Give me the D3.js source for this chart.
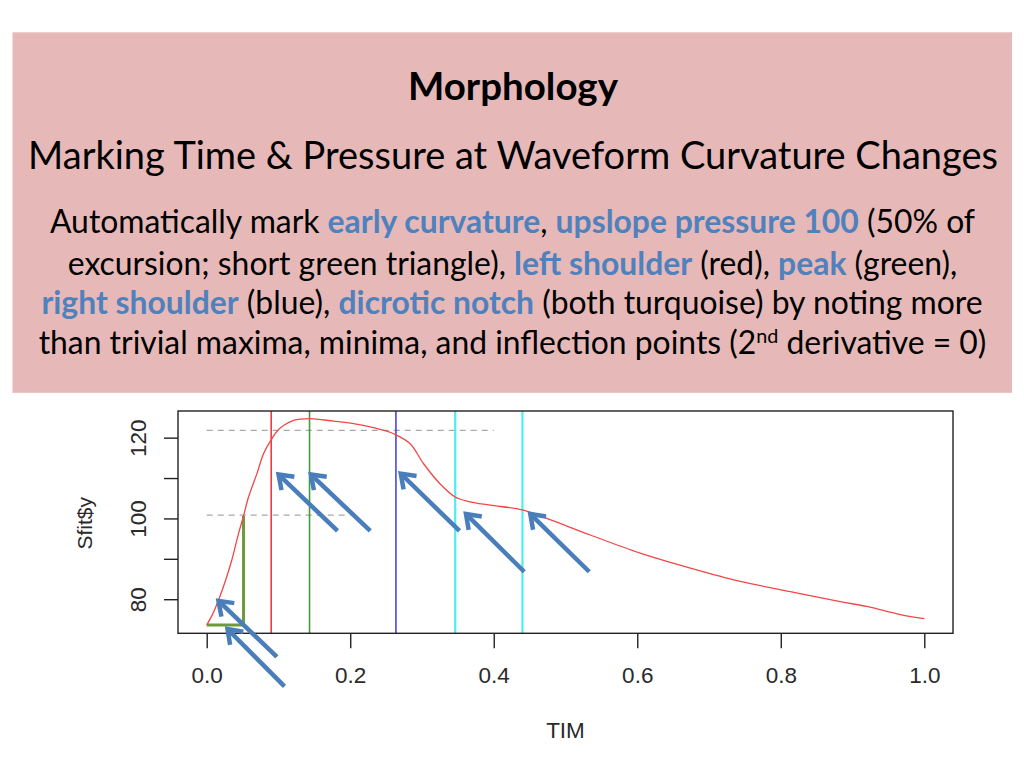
<!DOCTYPE html>
<html><head><meta charset="utf-8">
<script src="https://cdn.jsdelivr.net/npm/d3@7"></script>
<style>body{margin:0;background:#fff;} svg{display:block}</style>
</head><body>
<svg id="chart" width="1024" height="768"></svg>
<script>
// ---------- data ----------
const TIME = [0, 0.0083, 0.0165, 0.026, 0.035, 0.0444, 0.0513, 0.0583, 0.070, 0.0792, 0.0899, 0.098, 0.107, 0.121, 0.1433, 0.1767, 0.2046, 0.2325, 0.251, 0.2637, 0.2836, 0.302, 0.325, 0.3463, 0.367, 0.395, 0.44, 0.474, 0.5345, 0.6042, 0.6739, 0.7435, 0.8132, 0.8829, 0.92, 0.9666, 1.0];
const PRESSURE = [73.6, 76.3, 79.8, 84.5, 89.7, 96.3, 100.6, 105.3, 111.1, 116.0, 119.5, 121.6, 123.0, 124.3, 124.7, 124.1, 123.5, 122.5, 121.6, 120.7, 118.5, 113.6, 108.6, 105.3, 104.1, 103.3, 102.1, 100.0, 95.9, 91.4, 87.7, 84.4, 81.9, 79.4, 78.2, 76.2, 75.2];

const X_TICKS = [0, 0.2, 0.4, 0.6, 0.8, 1.0];
const X_TICK_LABELS = ["0.0", "0.2", "0.4", "0.6", "0.8", "1.0"];
const Y_TICKS = [80, 90, 100, 110, 120];
const Y_TICK_LABELS = ["80", "", "100", "", "120"];

const MARKER_NAMES = ["left shoulder", "peak", "right shoulder", "dicrotic 1", "dicrotic 2"];
const MARKER_TIMES = [0.0899, 0.1433, 0.2637, 0.3463, 0.4400];

const UPSLOPE_TIMES = [0, 0.0513];
const UPSLOPE_PRESSURES = [73.6, 100.6];

const REF_PRESSURES = [100.8, 121.8];
const REF_END_TIMES = [0.2, 0.4];

const ARROW_TAIL_T = [0.0978, 0.1084, 0.1823, 0.2279, 0.3523, 0.4425, 0.5331];
const ARROW_TAIL_P = [65.7, 58.4, 96.9, 96.9, 96.9, 86.8, 86.8];
const ARROW_HEAD_T = [0.0164, 0.0290, 0.1001, 0.1452, 0.2704, 0.3613, 0.4509];
const ARROW_HEAD_P = [79.6, 72.6, 110.9, 110.9, 111.1, 101.1, 101.1];

const TITLE = "Morphology";
const SUBTITLE = "Marking Time & Pressure at Waveform Curvature Changes";
const BODY_LINES = [
  [["Automatically mark ", 0], ["early curvature", 1], [", ", 0], ["upslope pressure 100", 1], [" (50% of", 0]],
  [["excursion; short green triangle), ", 0], ["left shoulder", 1], [" (red), ", 0], ["peak", 1], [" (green),", 0]],
  [["right shoulder", 1], [" (blue), ", 0], ["dicrotic notch", 1], [" (both turquoise) by noting more", 0]],
  [["than trivial maxima, minima, and inflection points (2", 0], ["nd", 2], [" derivative = 0)", 0]]
];
const X_LABEL = "TIM";
const Y_LABEL = "Sfit$y";

// ---------- layout / style ----------
const svg = d3.select("#chart");
const PANEL = {x: 12.5, y: 32.3, w: 999.5, h: 360.5};
const BOX = {l: 178, r: 953, t: 411, b: 633.3};
const MARKER_COLORS = ["#f23a3a", "#3f9c3f", "#2f2fd0", "#4eeeee", "#4eeeee"];
const MARKER_WIDTHS = [1.6, 1.6, 1.4, 2.2, 2.2];
const HIGHLIGHT = "#4f81bd";
const BODY_FONT = "Lato, 'Noto Sans', sans-serif";
const AXIS_FONT = "'Liberation Sans', Arial, sans-serif";
const AXIS_SIZE = 22.5;

svg.append("rect").attr("x", PANEL.x).attr("y", PANEL.y).attr("width", PANEL.w).attr("height", PANEL.h).attr("fill", "#e6b9b8");

function fitText(sel, targetWidth, baseSize) {
  sel.attr("font-size", baseSize);
  const w = sel.node().getComputedTextLength();
  return baseSize * targetWidth / w;
}

const title = svg.append("text").attr("x", 513).attr("y", 100).attr("text-anchor", "middle")
  .attr("font-family", BODY_FONT).attr("font-weight", "bold").attr("fill", "#000").text(TITLE);
title.attr("font-size", fitText(title, 210, 32));

const sub = svg.append("text").attr("x", 513).attr("y", 168.5).attr("text-anchor", "middle")
  .attr("font-family", BODY_FONT).attr("fill", "#000").text(SUBTITLE);
sub.attr("font-size", fitText(sub, 970, 36));

const BODY_BASELINES = [233, 274.5, 313.5, 354];
const BODY_WIDTHS = [918, 902, 946, 937];
const BODY_CENTERS = [512.5, 512.5, 512, 512.5];

function buildLine(g, segs, size) {
  g.selectAll("tspan").remove();
  segs.forEach(([s, kind]) => {
    const ts = g.append("tspan").text(s);
    if (kind === 1) ts.attr("fill", HIGHLIGHT).attr("font-weight", "bold");
    else ts.attr("fill", "#000");
    if (kind === 2) ts.attr("font-size", size * 0.62).attr("dy", -size * 0.36);
  });
  const tspans = g.selectAll("tspan").nodes();
  segs.forEach(([s, kind], i) => {
    if (kind === 2 && tspans[i + 1]) d3.select(tspans[i + 1]).attr("dy", size * 0.36);
  });
}
const bodyTexts = BODY_LINES.map((segs, i) => {
  const t = svg.append("text").attr("x", BODY_CENTERS[i]).attr("y", BODY_BASELINES[i])
    .attr("text-anchor", "middle").attr("font-family", BODY_FONT).attr("font-size", 29);
  buildLine(t, segs, 29);
  return t;
});
const fits = bodyTexts.map((t, i) => 29 * BODY_WIDTHS[i] / t.node().getComputedTextLength());
const bodySize = d3.mean(fits);
bodyTexts.forEach((t, i) => { t.attr("font-size", bodySize); buildLine(t, BODY_LINES[i], bodySize); });

// ---------- chart ----------
const x = d3.scaleLinear().domain([-0.04, 1.04]).range([BOX.l, BOX.r]);
const y = d3.scaleLinear().domain([71.56, 126.6]).range([BOX.b, BOX.t]);

svg.append("g").selectAll("line").data(REF_PRESSURES).join("line")
  .attr("x1", x(0)).attr("x2", (d, i) => x(REF_END_TIMES[i]))
  .attr("y1", d => y(d)).attr("y2", d => y(d))
  .attr("stroke", "#a8a8a8").attr("stroke-width", 1.2).attr("stroke-dasharray", "6,5");

svg.append("g").selectAll("line").data(MARKER_TIMES).join("line")
  .attr("x1", d => x(d)).attr("x2", d => x(d)).attr("y1", BOX.t).attr("y2", BOX.b)
  .attr("stroke", (d, i) => MARKER_COLORS[i]).attr("stroke-width", (d, i) => MARKER_WIDTHS[i]);

svg.append("path")
  .attr("d", d3.line()([[x(UPSLOPE_TIMES[0]), y(UPSLOPE_PRESSURES[0])], [x(UPSLOPE_TIMES[1]), y(UPSLOPE_PRESSURES[0])], [x(UPSLOPE_TIMES[1]), y(UPSLOPE_PRESSURES[1])]]))
  .attr("fill", "none").attr("stroke", "#6f9a3c").attr("stroke-width", 3);

const pts = TIME.map((t, i) => [t, PRESSURE[i]]);
svg.append("path").datum(pts)
  .attr("d", d3.line().x(d => x(d[0])).y(d => y(d[1])).curve(d3.curveCatmullRom.alpha(0.5)))
  .attr("fill", "none").attr("stroke", "#f04848").attr("stroke-width", 1.3);

svg.append("rect").attr("x", BOX.l).attr("y", BOX.t).attr("width", BOX.r - BOX.l).attr("height", BOX.b - BOX.t)
  .attr("fill", "none").attr("stroke", "#222").attr("stroke-width", 1.4);

const xAxis = svg.append("g").attr("transform", `translate(0,${BOX.b})`)
  .call(d3.axisBottom(x).tickValues(X_TICKS).tickFormat((d, i) => X_TICK_LABELS[i]).tickSize(15).tickPadding(19));
xAxis.select(".domain").remove();
xAxis.selectAll("line").attr("stroke", "#222").attr("stroke-width", 1.4);
xAxis.selectAll("text").attr("font-family", AXIS_FONT).attr("font-size", AXIS_SIZE).attr("fill", "#2a2a2a");

const yAxis = svg.append("g").attr("transform", `translate(${BOX.l},0)`)
  .call(d3.axisLeft(y).tickValues(Y_TICKS).tickFormat((d, i) => Y_TICK_LABELS[i]).tickSize(14));
yAxis.select(".domain").remove();
yAxis.selectAll("line").attr("stroke", "#222").attr("stroke-width", 1.4);
yAxis.selectAll("text").attr("x", null).attr("dy", null).attr("text-anchor", "middle")
  .attr("transform", "translate(-32,0) rotate(-90)")
  .attr("font-family", AXIS_FONT).attr("font-size", AXIS_SIZE).attr("fill", "#2a2a2a");

svg.append("text").attr("x", (BOX.l + BOX.r) / 2).attr("y", 737.5).attr("text-anchor", "middle")
  .attr("font-family", AXIS_FONT).attr("font-size", AXIS_SIZE).attr("fill", "#2a2a2a").text(X_LABEL);
svg.append("text").attr("transform", `translate(91.5,${y(98.8)}) rotate(-90)`).attr("text-anchor", "middle")
  .attr("font-family", AXIS_FONT).attr("font-size", 21).attr("fill", "#2a2a2a").text(Y_LABEL);

const arrowG = svg.append("g").attr("stroke", "#4a7ebb").attr("stroke-width", 4.5).attr("fill", "none");
ARROW_TAIL_T.forEach((tt, i) => {
  const x1 = x(tt), y1 = y(ARROW_TAIL_P[i]), x2 = x(ARROW_HEAD_T[i]), y2 = y(ARROW_HEAD_P[i]);
  const ang = Math.atan2(y2 - y1, x2 - x1);
  const L = 16, a = 0.62;
  arrowG.append("line").attr("x1", x1).attr("y1", y1).attr("x2", x2 - 2 * Math.cos(ang)).attr("y2", y2 - 2 * Math.sin(ang));
  arrowG.append("path").attr("stroke-linejoin", "miter")
    .attr("d", d3.line()([
      [x2 - L * Math.cos(ang - a), y2 - L * Math.sin(ang - a)],
      [x2, y2],
      [x2 - L * Math.cos(ang + a), y2 - L * Math.sin(ang + a)]
    ]));
});
</script>
</body></html>
